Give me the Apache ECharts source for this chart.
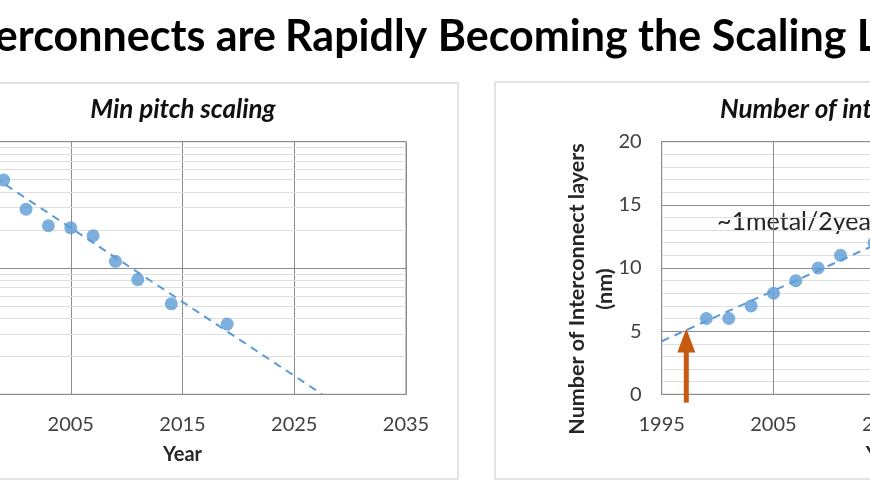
<!DOCTYPE html>
<html>
<head>
<meta charset="utf-8">
<script src="https://cdn.jsdelivr.net/npm/echarts@6/dist/echarts.min.js"></script>
<style>
  html, body { margin: 0; padding: 0; background: #fff; overflow: hidden; }
  #main { width: 870px; height: 492px; }
</style>
</head>
<body>
<div id="main"></div>
<script>
// min pitch (nm), log axis
const pitchYears = [1999, 2001, 2003, 2005, 2007, 2009, 2011, 2014, 2019];
const pitchNm = [497, 292, 216, 208, 180, 113, 81, 52, 36];
const pitchTrendYears = [1995, 2027.5];
const pitchTrendNm = [800, 10];
const pitchMinorTicks = [20, 30, 40, 50, 60, 70, 80, 90, 200, 300, 400, 500, 600, 700, 800, 900];

// number of interconnect layers
const layerYears = [1999, 2001, 2003, 2005, 2007, 2009, 2011, 2014];
const layerCounts = [6, 6, 7, 8, 9, 10, 11, 12];
const layerTrendYears = [1995, 2030];
const layerTrendCounts = [4.2, 18.2];

// orange arrow: year, tail value, tip value
const arrowYear = 1997.2;
const arrowFrom = -0.66;
const arrowTip = 5.2;

const blue = '#5B9BD5';
const major = '#8c8c8c';
const minor = '#dedede';
const orange = '#C55A11';
const font = 'Lato';

let myChart = echarts.init(document.getElementById('main'));

function xAxisFor(i) {
  return {
    type: 'value', gridIndex: i, min: 1995, max: 2035, interval: 10,
    name: 'Year', nameLocation: 'middle', nameGap: 50,
    nameTextStyle: { fontFamily: font, fontWeight: 'bold', fontSize: 20, color: '#262626' },
    axisLine: { show: true, lineStyle: { color: major } },
    axisTick: { show: false },
    axisLabel: { fontFamily: font, fontSize: 20, color: '#404040', margin: 20, formatter: v => String(v) },
    splitLine: { show: true, lineStyle: { color: major } }
  }
}

let option = {
  animation: false,
  grid: [
    { left: -41, top: 141.7, width: 447, height: 252.6, outerBoundsMode: 'none',
      show: true, borderColor: major, borderWidth: 1 },
    { left: 661.7, top: 141.7, width: 447, height: 252.6, outerBoundsMode: 'none',
      show: true, borderColor: major, borderWidth: 1 }
  ],
  xAxis: [xAxisFor(0), xAxisFor(1)],
  yAxis: [
    {
      type: 'log', gridIndex: 0, min: 10, max: 1000, logBase: 10,
      axisLine: { show: true, lineStyle: { color: major } },
      axisTick: { show: false },
      axisLabel: { fontFamily: font, fontSize: 20, color: '#404040' },
      splitLine: { show: true, lineStyle: { color: major } }
    },
    {
      type: 'value', gridIndex: 1, min: 0, max: 20, interval: 5,
      axisLine: { show: true, lineStyle: { color: major } },
      axisTick: { show: false },
      axisLabel: { fontFamily: font, fontSize: 20, color: '#404040', margin: 20 },
      splitLine: { show: true, lineStyle: { color: major } },
      minorTick: { show: false, splitNumber: 5 },
      minorSplitLine: { show: true, lineStyle: { color: minor } }
    }
  ],
  graphic: [
    { id: 'panelL', type: 'rect', shape: { x: -20, y: 83, width: 478, height: 396 },
      style: { fill: 'none', stroke: '#dcdcdc', lineWidth: 1.5 }, z: -10 },
    { id: 'panelR', type: 'rect', shape: { x: 495, y: 82, width: 420, height: 397 },
      style: { fill: 'none', stroke: '#dcdcdc', lineWidth: 1.5 }, z: -10 },
    { id: 'title1', type: 'text', x: 276, y: 37,
      style: { text: 'Interconnects are', font: 'bold 43px Lato', fill: '#000',
        align: 'right', verticalAlign: 'middle' } },
    { id: 'title2', type: 'text', x: 285, y: 37,
      style: { text: 'Rapidly Becoming the Scaling Limiter', font: 'bold 43px Lato', fill: '#000',
        align: 'left', verticalAlign: 'middle' } },
    { id: 'subL', type: 'text', x: 183, y: 110,
      style: { text: 'Min pitch scaling', font: 'italic bold 26px Lato', fill: '#111',
        align: 'center', verticalAlign: 'middle' } },
    { id: 'subR', type: 'text', x: 720, y: 110,
      style: { text: 'Number of interconnect layers', font: 'italic bold 26px Lato', fill: '#111',
        align: 'left', verticalAlign: 'middle' } },
    { id: 'note', type: 'text', x: 717, y: 222,
      style: { text: '~1metal/2years', font: '25px Lato', fill: '#262626',
        align: 'left', verticalAlign: 'middle' } },
    { id: 'yname', type: 'text', x: 591, y: 289, rotation: Math.PI / 2,
      style: { text: 'Number of Interconnect layers\n(nm)', font: 'bold 21.5px Lato', fill: '#262626',
        align: 'center', verticalAlign: 'middle', lineHeight: 28 } }
  ],
  series: [
    {
      name: 'pitch trend', type: 'line', xAxisIndex: 0, yAxisIndex: 0,
      data: pitchTrendYears.map((y, i) => [y, pitchTrendNm[i]]),
      showSymbol: false, z: 3,
      lineStyle: { color: blue, width: 2, type: [8, 6] },
      markLine: {
        silent: true, z: 1, symbol: 'none', animation: false,
        label: { show: false },
        lineStyle: { color: minor, width: 1, type: 'solid' },
        data: pitchMinorTicks.map(v => ({ yAxis: v }))
      }
    },
    {
      name: 'pitch', type: 'scatter', xAxisIndex: 0, yAxisIndex: 0,
      data: pitchYears.map((y, i) => [y, pitchNm[i]]),
      symbolSize: 13, itemStyle: { color: blue }, z: 4
    },
    {
      name: 'layers trend', type: 'line', xAxisIndex: 1, yAxisIndex: 1,
      data: layerTrendYears.map((y, i) => [y, layerTrendCounts[i]]),
      showSymbol: false, z: 3,
      lineStyle: { color: blue, width: 2, type: [8, 6] }
    },
    {
      name: 'layers', type: 'scatter', xAxisIndex: 1, yAxisIndex: 1,
      data: layerYears.map((y, i) => [y, layerCounts[i]]),
      symbolSize: 13, itemStyle: { color: blue }, z: 4
    }
  ]
};
myChart.setOption(option);

// arrow placed through the right chart's axes
let tail = myChart.convertToPixel({ gridIndex: 1 }, [arrowYear, arrowFrom]);
let tip = myChart.convertToPixel({ gridIndex: 1 }, [arrowYear, arrowTip]);
myChart.setOption({
  graphic: [
    { id: 'arrowShaft', type: 'line', z: 10,
      shape: { x1: tail[0], y1: tail[1], x2: tip[0], y2: tip[1] + 20 },
      style: { stroke: orange, lineWidth: 5 } },
    { id: 'arrowHead', type: 'polygon', z: 10,
      shape: { points: [[tip[0], tip[1]], [tip[0] + 9, tip[1] + 24], [tip[0] - 9, tip[1] + 24]] },
      style: { fill: orange } }
  ]
});
</script>
</body>
</html>
